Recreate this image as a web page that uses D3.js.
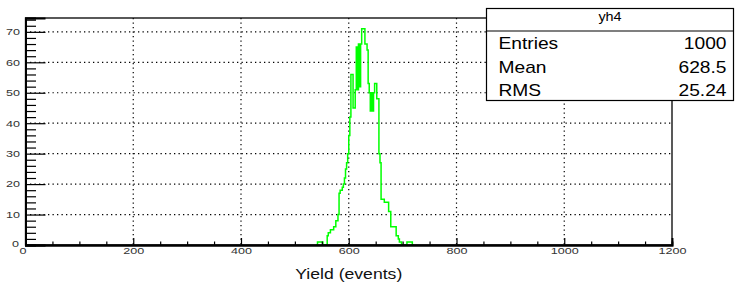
<!DOCTYPE html>
<html>
<head>
<meta charset="utf-8">
<script src="https://cdn.jsdelivr.net/npm/d3@7"></script>
<style>
  body { margin: 0; background: #fff; }
  svg { display: block; font-family: "Liberation Sans", Arial, sans-serif; }
</style>
</head>
<body>
<div id="chart"></div>
<script>
// histogram of fitted yields, 2-unit bins starting at 540
const binStart = 540;
const binWidth = 2;
const counts = [
  0, 1, 1, 1, 1, 1, 0, 0, 0, 0,
  3, 4, 4, 5, 5, 5, 6, 6, 8, 8,
  10, 17, 18, 18, 19, 20, 22, 25, 27, 30,
  36, 42, 56, 56, 45, 45, 51, 65, 51, 66,
  52, 66, 71, 71, 71, 66, 66, 64, 53, 50,
  44, 50, 44, 50, 53, 53, 48, 48, 30, 27,
  15, 15, 15, 14, 14, 14, 14, 11, 11, 6,
  6, 6, 6, 6, 3, 3, 2, 1, 1, 0,
  0, 0, 0, 0, 1, 1, 1, 1, 1, 0
];
const xMajor = [0, 200, 400, 600, 800, 1000, 1200];
const yMajor = [0, 10, 20, 30, 40, 50, 60, 70];
const histName = "yh4";
const statLabels = ["Entries", "Mean", "RMS"];
const statValues = ["1000", "628.5", "25.24"];
const xTitle = "Yield (events)";

const W = 736, H = 288;
const frame = {left: 25.5, right: 672, top: 18, bottom: 245};

const svg = d3.select("#chart").append("svg")
  .attr("width", W)
  .attr("height", H);

const x = d3.scaleLinear().domain([0, 1200]).range([frame.left, frame.right]);
const y = d3.scaleLinear().domain([0, d3.max(counts) * 1.05]).range([frame.bottom, frame.top]);

const xMinor = d3.range(0, 1201, 50).filter(v => v % 200 !== 0);
const yMinor = d3.range(0, 75, 2).filter(v => v % 10 !== 0);

// dotted grid
const grid = svg.append("g")
  .attr("stroke", "#000")
  .attr("stroke-width", 1.2)
  .attr("stroke-dasharray", "1.3,3.2");
grid.selectAll(".gx")
  .data(xMajor.filter(v => v > 0 && v < 1200))
  .enter().append("line")
  .attr("x1", d => x(d)).attr("x2", d => x(d))
  .attr("y1", frame.top).attr("y2", frame.bottom);
grid.selectAll(".gy")
  .data(yMajor.filter(v => v > 0))
  .enter().append("line")
  .attr("x1", frame.left).attr("x2", frame.right)
  .attr("y1", d => y(d)).attr("y2", d => y(d));

// histogram outline
const pts = [[binStart, 0]];
counts.forEach((c, i) => {
  const lo = binStart + i * binWidth;
  pts.push([lo, c], [lo + binWidth, c]);
});
pts.push([binStart + counts.length * binWidth, 0]);

svg.append("path")
  .datum(pts)
  .attr("fill", "none")
  .attr("stroke", "#00ff00")
  .attr("stroke-width", 1.5)
  .attr("d", d3.line().x(d => x(d[0])).y(d => y(d[1])));

// frame
svg.append("rect")
  .attr("x", frame.left).attr("y", frame.top)
  .attr("width", frame.right - frame.left)
  .attr("height", frame.bottom - frame.top)
  .attr("fill", "none")
  .attr("stroke", "#000")
  .attr("stroke-width", 1.3);

// x axis, ticks point into the frame
const gx = svg.append("g").attr("transform", "translate(0," + frame.bottom + ")");
gx.call(d3.axisBottom(x).tickValues(xMinor).tickSize(-3.5).tickFormat(""));
gx.append("g").call(d3.axisBottom(x).tickValues(xMajor).tickSize(-7).tickPadding(2.5).tickFormat(d3.format("d")));
gx.selectAll(".domain").attr("stroke", "#000").attr("stroke-width", 1.8);
gx.selectAll(".tick line").attr("stroke", "#000").attr("stroke-width", 1.2);
gx.selectAll("text")
  .attr("font-size", 9)
  .attr("fill", "#333")
  .attr("transform", d => d === 0 ? "translate(-3,0) scale(1.4,1)" : "scale(1.4,1)");

// y axis
const gy = svg.append("g").attr("transform", "translate(" + frame.left + ",0)");
gy.call(d3.axisLeft(y).tickValues(yMinor).tickSize(-10.5).tickFormat(""));
gy.append("g").call(d3.axisLeft(y).tickValues(yMajor).tickSize(-20).tickPadding(0).tickFormat(d3.format("d")));
gy.selectAll(".domain").attr("stroke", "#000").attr("stroke-width", 1.8);
gy.selectAll(".tick line").attr("stroke", "#000").attr("stroke-width", 1.2);
gy.selectAll("text")
  .attr("font-size", 9)
  .attr("fill", "#333")
  .attr("x", 0)
  .attr("transform", d => d === 0 ? "translate(-6.5,-1.5) scale(1.4,1)" : "translate(-5.5,0) scale(1.4,1)");

// axis title
svg.append("text")
  .attr("transform", "translate(" + ((frame.left + frame.right) / 2) + ",279) scale(1.26,1)")
  .attr("text-anchor", "middle")
  .attr("font-size", 14)
  .attr("fill", "#111")
  .text(xTitle);

// stats box
const box = {x: 486.5, y: 8.5, w: 247, h: 92, titleH: 22.5};
const stats = svg.append("g");
stats.append("rect")
  .attr("x", box.x).attr("y", box.y)
  .attr("width", box.w).attr("height", box.h)
  .attr("fill", "#fff")
  .attr("stroke", "#000")
  .attr("stroke-width", 1.2);
stats.append("line")
  .attr("x1", box.x).attr("x2", box.x + box.w)
  .attr("y1", box.y + box.titleH).attr("y2", box.y + box.titleH)
  .attr("stroke", "#000")
  .attr("stroke-width", 1.2);
stats.append("text")
  .attr("transform", "translate(" + (box.x + box.w / 2) + ",21) scale(1.2,1)")
  .attr("text-anchor", "middle")
  .attr("font-size", 12)
  .text(histName);
stats.selectAll(".lab")
  .data(statLabels)
  .enter().append("text")
  .attr("transform", (d, i) => "translate(498.5," + (49.3 + i * 23.4) + ") scale(1.2,1)")
  .attr("font-size", 16)
  .text(d => d);
stats.selectAll(".val")
  .data(statValues)
  .enter().append("text")
  .attr("transform", (d, i) => "translate(726.5," + (49.3 + i * 23.4) + ") scale(1.2,1)")
  .attr("text-anchor", "end")
  .attr("font-size", 16)
  .text(d => d);
</script>
</body>
</html>
